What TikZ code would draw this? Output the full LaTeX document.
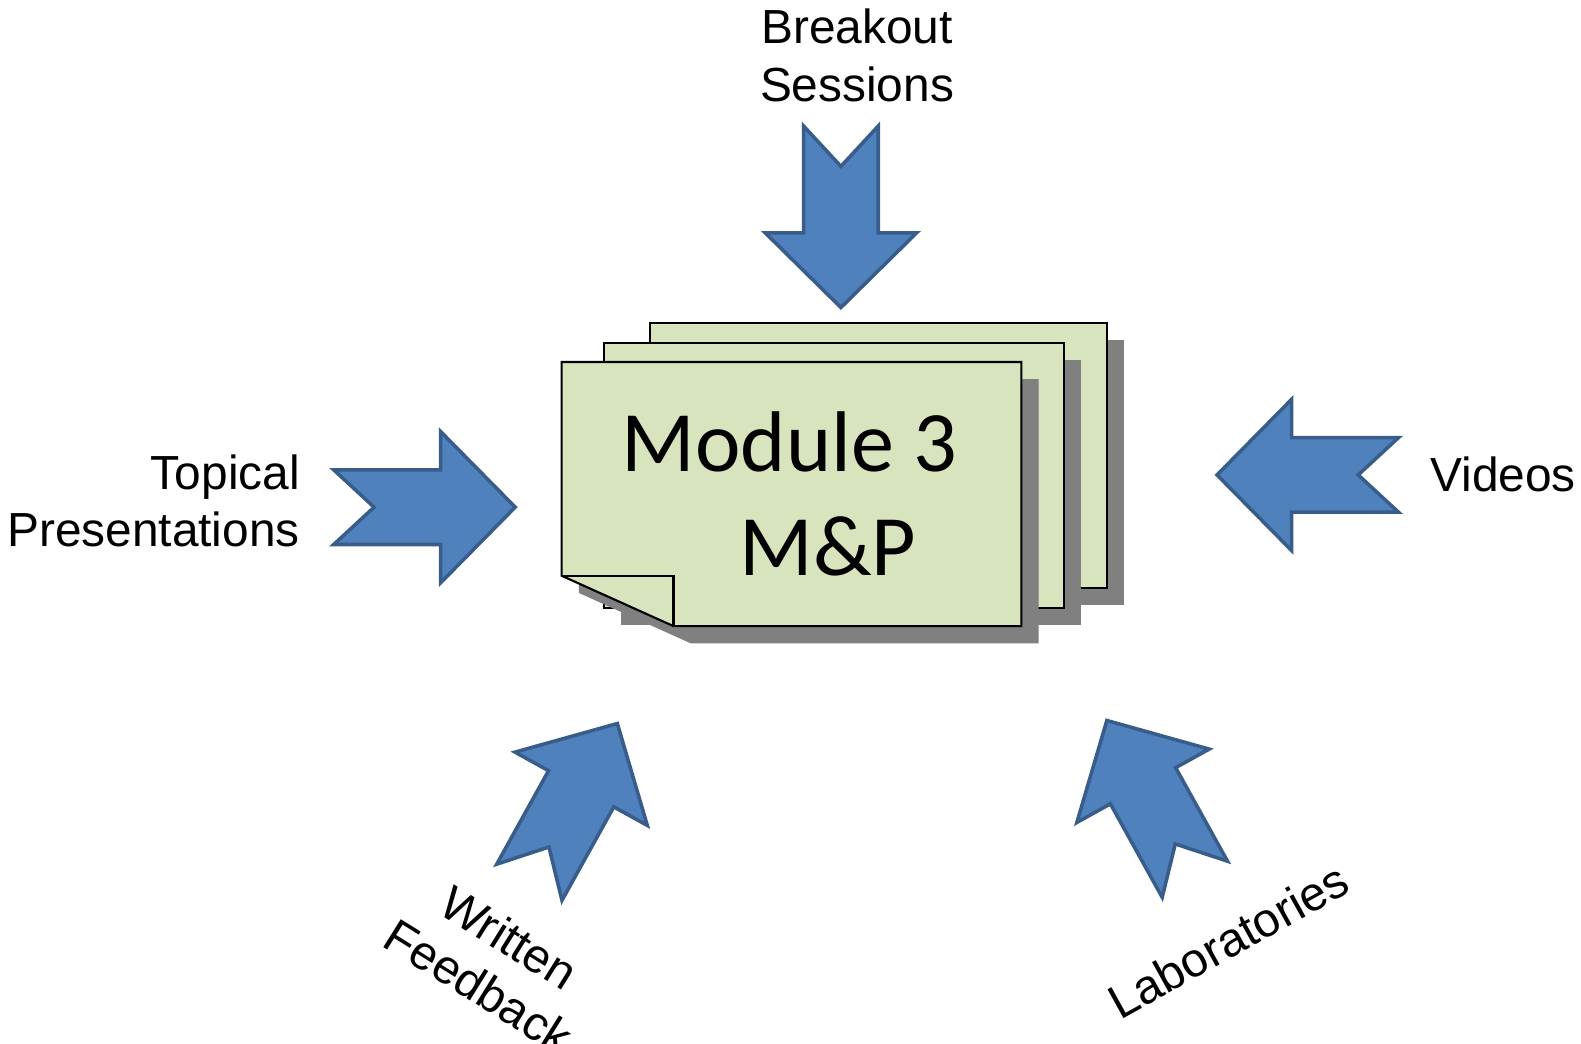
\documentclass[tikz,border=0pt]{standalone}
\usepackage{fontspec}
\setmainfont{Liberation Sans}
\newfontfamily\cardfont{Carlito}
\usepackage{tikz}
\usetikzlibrary{positioning, calc}
\definecolor{cardGreen}{HTML}{D7E4BD}
\definecolor{shadowGray}{HTML}{808080}
\definecolor{arrowFill}{HTML}{4F81BD}
\definecolor{arrowEdge}{HTML}{385D8A}
\newcommand{\lblfont}{\fontsize{13.5}{16.2}\selectfont}
\newcommand{\modfont}{\cardfont\fontsize{24.3}{29.2}\selectfont}

\begin{document}
\begin{tikzpicture}[card/.style={fill=cardGreen, draw=black, line width=0.6pt},shade/.style={fill=shadowGray, draw=none},lbl/.style={font=\lblfont, inner sep=0pt},blockarrow/.pic={\draw[fill=arrowFill, draw=arrowEdge, line width=1pt, line join=miter] (0,0.37) -- (1.06,0.37) -- (1.06,0.75) -- (1.80,0) -- (1.06,-0.75) -- (1.06,-0.37) -- (0,-0.37) -- (0.40,0) -- cycle;}]
\useasboundingbox (0,0) rectangle (15.68,10.35);
% stack of cards, back to front
\fill[shade] (6.62,4.35) rectangle (11.15,6.98);
\draw[card] (6.45,4.52) rectangle (10.98,7.15);
\fill[shade] (6.16,4.15) rectangle (10.72,6.78);
\draw[card] (5.99,4.32) rectangle (10.55,6.95);
\fill[shade] (5.74,6.59) -- (10.30,6.59) -- (10.30,3.97) -- (6.85,3.97) -- (5.74,4.47) -- cycle;
\draw[card] (5.57,6.76) -- (10.13,6.76) -- (10.13,4.14) -- (6.68,4.14) -- (5.57,4.64) -- cycle;
\draw[line width=0.6pt] (5.57,4.64) -- (6.68,4.64) -- (6.68,4.14);
\node[font=\modfont, align=center, inner sep=0pt] (module) at (7.83,5.45) {Module 3\\\hspace*{0.76cm}M\&P};
% arrows pointing in
\pic[rotate=-90] (brk) at (8.34,9.10) {blockarrow};
\pic (top) at (3.31,5.32) {blockarrow};
\pic[rotate=180] (vid) at (13.87,5.64) {blockarrow};
\pic[rotate=61] (wfb) at (5.25,1.60) {blockarrow};
\pic[rotate=119] (lab) at (11.85,1.63) {blockarrow};
% labels
\node[lbl, align=center] (brklbl) at (8.50,9.80) {Breakout\\Sessions};
\node[lbl, align=right, anchor=east] (toplbl) at (2.98,5.38) {Topical\\Presentations};
\node[lbl, anchor=west] (vidlbl) at (14.18,5.65) {Videos};
\node[lbl, align=center, rotate=-32] (wfblbl) at (4.90,0.81) {Written\\Feedback};
\node[lbl, rotate=29] (lablbl) at (12.18,1.02) {Laboratories};
\end{tikzpicture}
\end{document}
